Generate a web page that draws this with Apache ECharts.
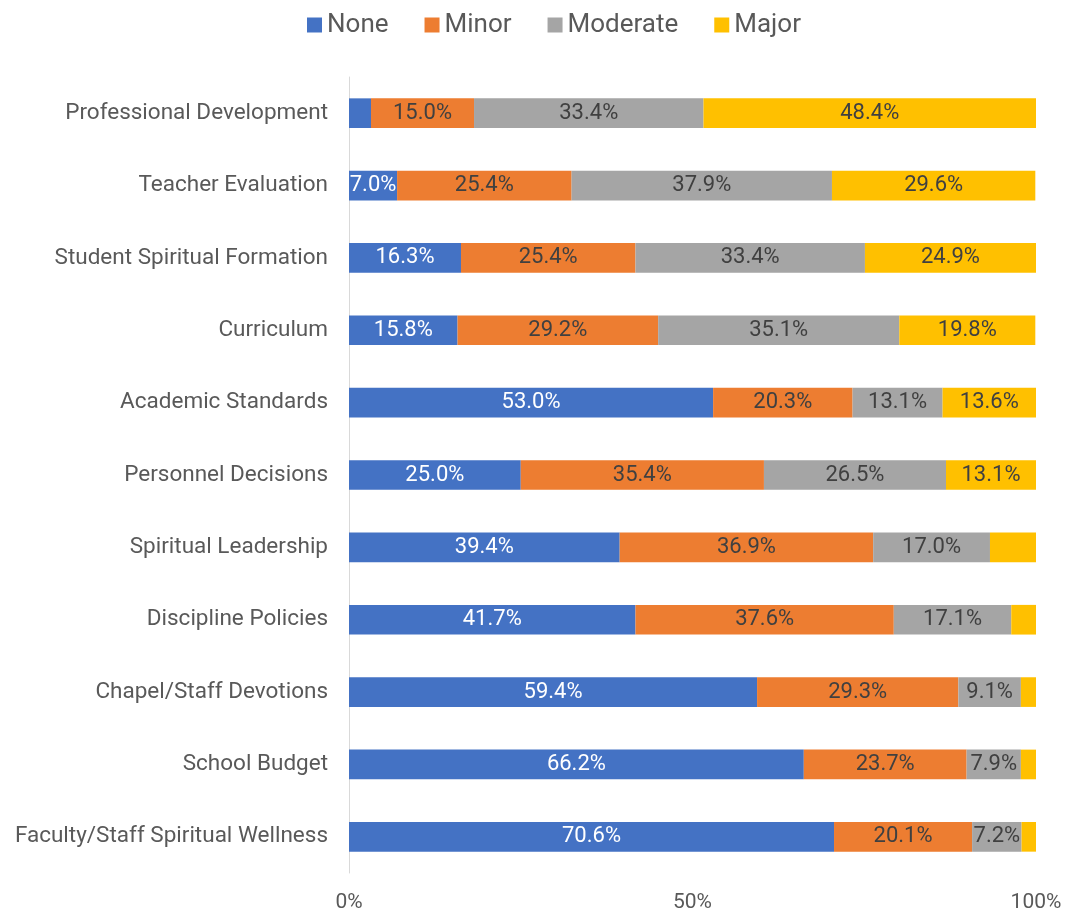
<!DOCTYPE html>
<html><head><meta charset="utf-8">
<script src="https://cdn.jsdelivr.net/npm/echarts@6/dist/echarts.min.js"></script>
<style>html,body{margin:0;padding:0;background:#fff}#c{width:1065px;height:913px}</style>
</head><body><div id="c"></div>
<script>
const categories = ["Professional Development","Teacher Evaluation","Student Spiritual Formation","Curriculum","Academic Standards","Personnel Decisions","Spiritual Leadership","Discipline Policies","Chapel/Staff Devotions","School Budget","Faculty/Staff Spiritual Wellness"];
const seriesNames = ["None","Minor","Moderate","Major"];
const none = [3.2,7.0,16.3,15.8,53.0,25.0,39.4,41.7,59.4,66.2,70.6];
const minor = [15.0,25.4,25.4,29.2,20.3,35.4,36.9,37.6,29.3,23.7,20.1];
const moderate = [33.4,37.9,33.4,35.1,13.1,26.5,17.0,17.1,9.1,7.9,7.2];
const major = [48.4,29.6,24.9,19.8,13.6,13.1,6.7,3.6,2.2,2.2,2.1];
const tickLabels = ["0%","50%","100%"];
const colors = ["#4472C4","#ED7D31","#A5A5A5","#FFC000"];
const labelColors = ["#ffffff","#404040","#404040","#404040"];
const allData = [none, minor, moderate, major];
const FONT = "Roboto";
const chart = echarts.init(document.getElementById('c'), null, {renderer:'canvas'});
chart.setOption({
  animation:false,
  textStyle:{fontFamily:FONT},
  legend:{top:7,left:302,itemWidth:15,itemHeight:15,itemGap:36,icon:'rect',
    textStyle:{fontSize:26,color:'#595959',fontFamily:FONT},data:seriesNames},
  grid:{left:349,right:29,top:77,bottom:38,containLabel:false},
  xAxis:{type:'value',min:0,max:100,interval:50,
    axisLine:{show:false},axisTick:{show:false},splitLine:{show:false},
    axisLabel:{fontSize:21,color:'#595959',margin:19,formatter:v=>tickLabels[Math.round(v/50)]}},
  yAxis:{type:'category',inverse:true,data:categories,
    axisLine:{show:true,lineStyle:{color:'#d9d9d9',width:1}},axisTick:{show:false},
    axisLabel:{fontSize:22.5,color:'#595959',margin:21}},
  series: seriesNames.map((n,i)=>({
    name:n,type:'bar',stack:'s',barCategoryGap:'59%',
    itemStyle:{color:colors[i]},
    label:{show:true,position:'inside',fontSize:22,color:labelColors[i],fontFamily:FONT,
      formatter:p=>p.value>=6.9?p.value.toFixed(1)+'%':''},
    data:allData[i]
  }))
});
</script></body></html>
